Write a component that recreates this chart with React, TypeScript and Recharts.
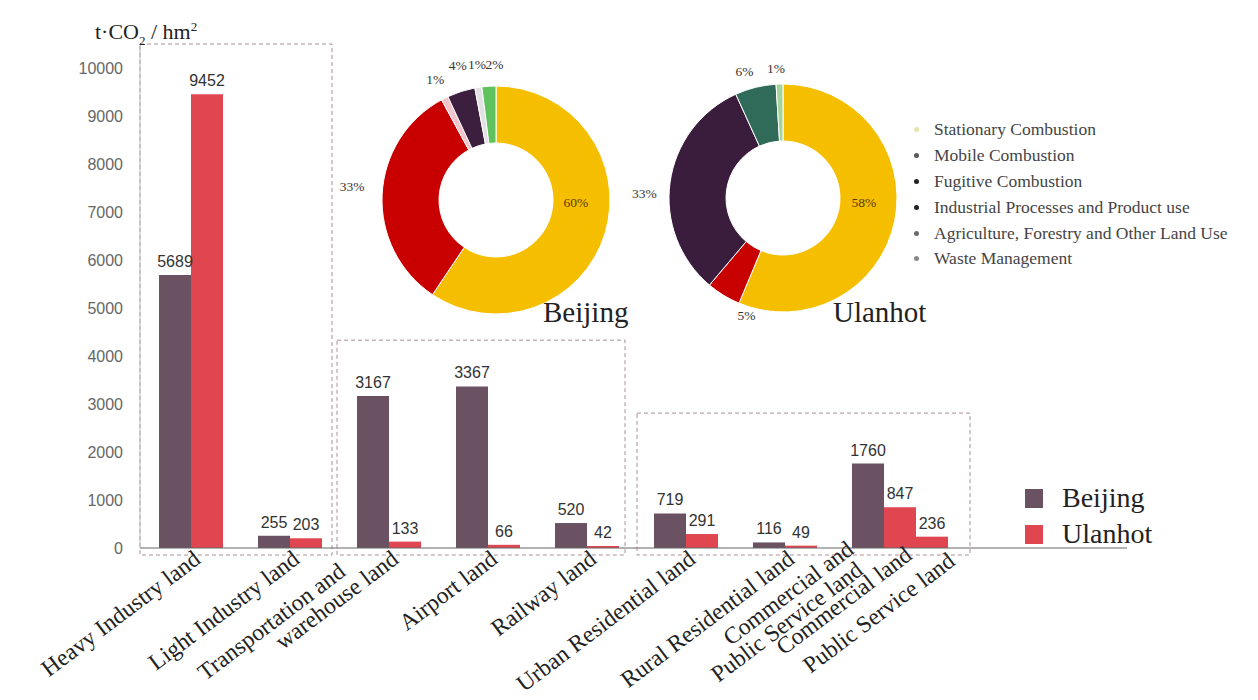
import React from "react";
import {
  BarChart, Bar, XAxis, YAxis, LabelList, ReferenceArea,
  PieChart, Pie, Cell,
} from "recharts";

const SERIF = '"Liberation Serif", "Times New Roman", serif';
const SANS = '"Liberation Sans", Arial, sans-serif';

// land-use classes ("\n" = line break in the axis label)
const landTypes = [
  "Heavy Industry land",
  "Light Industry land",
  "Transportation and\nwarehouse land",
  "Airport land",
  "Railway land",
  "Urban Residential land",
  "Rural Residential land",
  "Commercial and\nPublic Service land",
  "Commercial land",
  "Public Service land",
];
// t·CO2 / hm2
const beijingIntensity = [5689, 255, 3167, 3367, 520, 719, 116, 1760, null, null];
const ulanhotIntensity = [9452, 203, 133, 66, 42, 291, 49, null, 847, 236];
const yTicks = [0, 1000, 2000, 3000, 4000, 5000, 6000, 7000, 8000, 9000, 10000];

// emission sources, share in %
const sources = [
  "Stationary Combustion",
  "Mobile Combustion",
  "Fugitive Combustion",
  "Industrial Processes and Product use",
  "Agriculture, Forestry and Other Land Use",
  "Waste Management",
];
const beijingShare = [60, 33, 1, 4, 1, 2];
const ulanhotShare = [58, 5, 0, 33, 6, 1];

const BEIJING = "#6a5262";
const ULANHOT = "#e0464f";
const beijingPieColors = ["#f5bf00", "#c80000", "#f3c4cc", "#3c1e3e", "#e2e2e2", "#5ec25e"];
const ulanhotPieColors = ["#f5bf00", "#c80000", "#f3c4cc", "#3a1c3c", "#2f6b58", "#a5d49a"];
const legendDots = ["#e3e6b0", "#5a5a5a", "#222", "#222", "#6a6a6a", "#8a8a8a"];

// label nudges so the small slices do not collide (dx, dy)
const beijingNudge = [[-2, -22], [-9, -7], [0, 0], [3, -6], [2, -2], [7, -1]];
const ulanhotNudge = [[-3, -12], [34, 2], [0, 0], [-5, 14], [-6, 5], [-3, 5]];

// Beijing reports commercial + public service as one class, Ulanhot splits it
const rows = landTypes.slice(0, 7).map((name, i) => ({
  name,
  labels: [name],
  beijing: beijingIntensity[i],
  ulanhot: ulanhotIntensity[i],
  ulanhot2: null as number | null,
}));
rows.push({
  name: landTypes[7],
  labels: landTypes.slice(7),
  beijing: beijingIntensity[7],
  ulanhot: ulanhotIntensity[8],
  ulanhot2: ulanhotIntensity[9],
});

const beijingPie = sources.map((s, i) => ({ name: s, value: beijingShare[i] }));
const ulanhotPie = sources.map((s, i) => ({ name: s, value: ulanhotShare[i] }));

// label anchors relative to band centre
const singleSpot = [{ dx: -4.5, dy: 6, lead: -50 }];
const mixedSpots = [
  { dx: -35, dy: 17, lead: 5 },
  { dx: 14, dy: 2, lead: 0 },
  { dx: 57, dy: 8, lead: 0 },
];

function LandTick(props: any) {
  const { x, y, payload } = props;
  const row = rows.find((r) => r.name === payload.value);
  if (!row) return null;
  const spots = row.labels.length > 1 ? mixedSpots : singleSpot;
  return (
    <g>
      {row.labels.map((label, i) => {
        const s = spots[i];
        const lines = label.split("\n");
        return (
          <g key={i} transform={`translate(${x + s.dx},${y + s.dy}) rotate(-37)`}>
            {lines.map((t, k) => {
              const last = k === lines.length - 1;
              return (
                <text
                  key={k}
                  x={last ? 0 : s.lead}
                  y={last ? 0 : -22 * (lines.length - 1 - k)}
                  textAnchor="end"
                  fontSize={23.5}
                  fontFamily={SERIF}
                  fill="#222"
                >
                  {t}
                </text>
              );
            })}
          </g>
        );
      })}
    </g>
  );
}

function dashedBox(left: number, right: number) {
  return (p: any) => (
    <rect
      x={p.x + left}
      y={p.y}
      width={p.width - left + right}
      height={p.height + 7}
      fill="none"
      stroke="#a89098"
      strokeDasharray="4 3"
      strokeWidth={1}
    />
  );
}

const RAD = Math.PI / 180;
function makePieLabel(nudge: number[][]) {
  return (p: any) => {
    const { cx, cy, midAngle, innerRadius, outerRadius, value, index } = p;
    if (!value) return null;
    const inside = value > 40;
    const r = inside ? (innerRadius + outerRadius) / 2 : outerRadius + 21;
    const [nx, ny] = nudge[index] || [0, 0];
    const x = cx + r * Math.cos(-midAngle * RAD) + nx;
    const y = cy + r * Math.sin(-midAngle * RAD) + ny;
    return (
      <text
        x={x}
        y={y}
        textAnchor="middle"
        dominantBaseline="central"
        fontSize={13.5}
        fontFamily={SERIF}
        fill={inside ? "#5a3a00" : "#333"}
      >
        {value}%
      </text>
    );
  };
}

function Donut({ data, colors, nudge, left, top }: any) {
  return (
    <div style={{ position: "absolute", left, top }}>
      <PieChart width={320} height={320}>
        <Pie
          data={data}
          dataKey="value"
          cx={160}
          cy={160}
          innerRadius={57}
          outerRadius={114}
          startAngle={90}
          endAngle={-270}
          stroke="#fff"
          strokeWidth={1}
          label={makePieLabel(nudge)}
          labelLine={false}
          isAnimationActive={false}
        >
          {data.map((_: any, i: number) => (
            <Cell key={i} fill={colors[i]} />
          ))}
        </Pie>
      </PieChart>
    </div>
  );
}

const valueLabel = { position: "top" as const, offset: 8, fill: "#333", fontSize: 16, fontFamily: SANS };

export default function App() {
  return (
    <div style={{ position: "absolute", left: 0, top: 0, width: 1258, height: 700, background: "#fff" }}>
      <BarChart
        width={1258}
        height={700}
        data={rows}
        margin={{ top: 44, right: 131, bottom: 0, left: 0 }}
        barGap={0}
      >
        <XAxis
          dataKey="name"
          interval={0}
          height={152}
          tickLine={false}
          axisLine={{ stroke: "#666" }}
          padding={{ left: 17, right: 178 }}
          tick={<LandTick />}
        />
        <YAxis
          width={140}
          domain={[0, 10500]}
          ticks={yTicks}
          tickLine={false}
          tickMargin={11}
          axisLine={{ stroke: "#bbb" }}
          tick={{ fontSize: 16, fill: "#666", fontFamily: SANS }}
        />
        <ReferenceArea x1={rows[0].name} x2={rows[1].name} y1={0} y2={10500} shape={dashedBox(-17, -23)} />
        <ReferenceArea x1={rows[2].name} x2={rows[4].name} y1={0} y2={4330} shape={dashedBox(-18, -27)} />
        <ReferenceArea x1={rows[5].name} x2={rows[7].name} y1={0} y2={2810} shape={dashedBox(-15, 21)} />
        <Bar dataKey="beijing" fill={BEIJING} barSize={32} isAnimationActive={false}>
          <LabelList dataKey="beijing" {...valueLabel} />
        </Bar>
        <Bar dataKey="ulanhot" fill={ULANHOT} barSize={32} isAnimationActive={false}>
          <LabelList dataKey="ulanhot" {...valueLabel} />
        </Bar>
        <Bar dataKey="ulanhot2" fill={ULANHOT} barSize={32} isAnimationActive={false}>
          <LabelList dataKey="ulanhot2" {...valueLabel} />
        </Bar>
      </BarChart>

      <div style={{ position: "absolute", left: 95, top: 15, fontFamily: SERIF, fontSize: 22, color: "#222", lineHeight: "24px" }}>
        t·CO<sub style={{ fontSize: 13 }}>2</sub> / hm<sup style={{ fontSize: 13 }}>2</sup>
      </div>

      <Donut data={beijingPie} colors={beijingPieColors} nudge={beijingNudge} left={331} top={35} />
      <Donut data={ulanhotPie} colors={ulanhotPieColors} nudge={ulanhotNudge} left={618} top={33} />

      <div style={{ position: "absolute", left: 543, top: 298, fontFamily: SERIF, fontSize: 29, color: "#222", lineHeight: 1 }}>
        Beijing
      </div>
      <div style={{ position: "absolute", left: 833, top: 298, fontFamily: SERIF, fontSize: 29, color: "#222", lineHeight: 1 }}>
        Ulanhot
      </div>

      <div style={{ position: "absolute", left: 914, top: 117, fontFamily: SERIF, fontSize: 17.5, color: "#444" }}>
        {sources.map((s, i) => (
          <div key={s} style={{ height: 25.8, display: "flex", alignItems: "center", whiteSpace: "nowrap" }}>
            <span style={{ width: 5, height: 5, borderRadius: 3, background: legendDots[i], marginRight: 15, display: "inline-block" }} />
            {s}
          </div>
        ))}
      </div>

      <div style={{ position: "absolute", left: 1025, top: 480, fontFamily: SERIF, fontSize: 28, color: "#222" }}>
        {[["Beijing", BEIJING], ["Ulanhot", ULANHOT]].map(([name, color]) => (
          <div key={name} style={{ height: 36, display: "flex", alignItems: "center" }}>
            <span style={{ width: 18, height: 19, background: color, marginRight: 19, display: "inline-block" }} />
            {name}
          </div>
        ))}
      </div>
    </div>
  );
}
